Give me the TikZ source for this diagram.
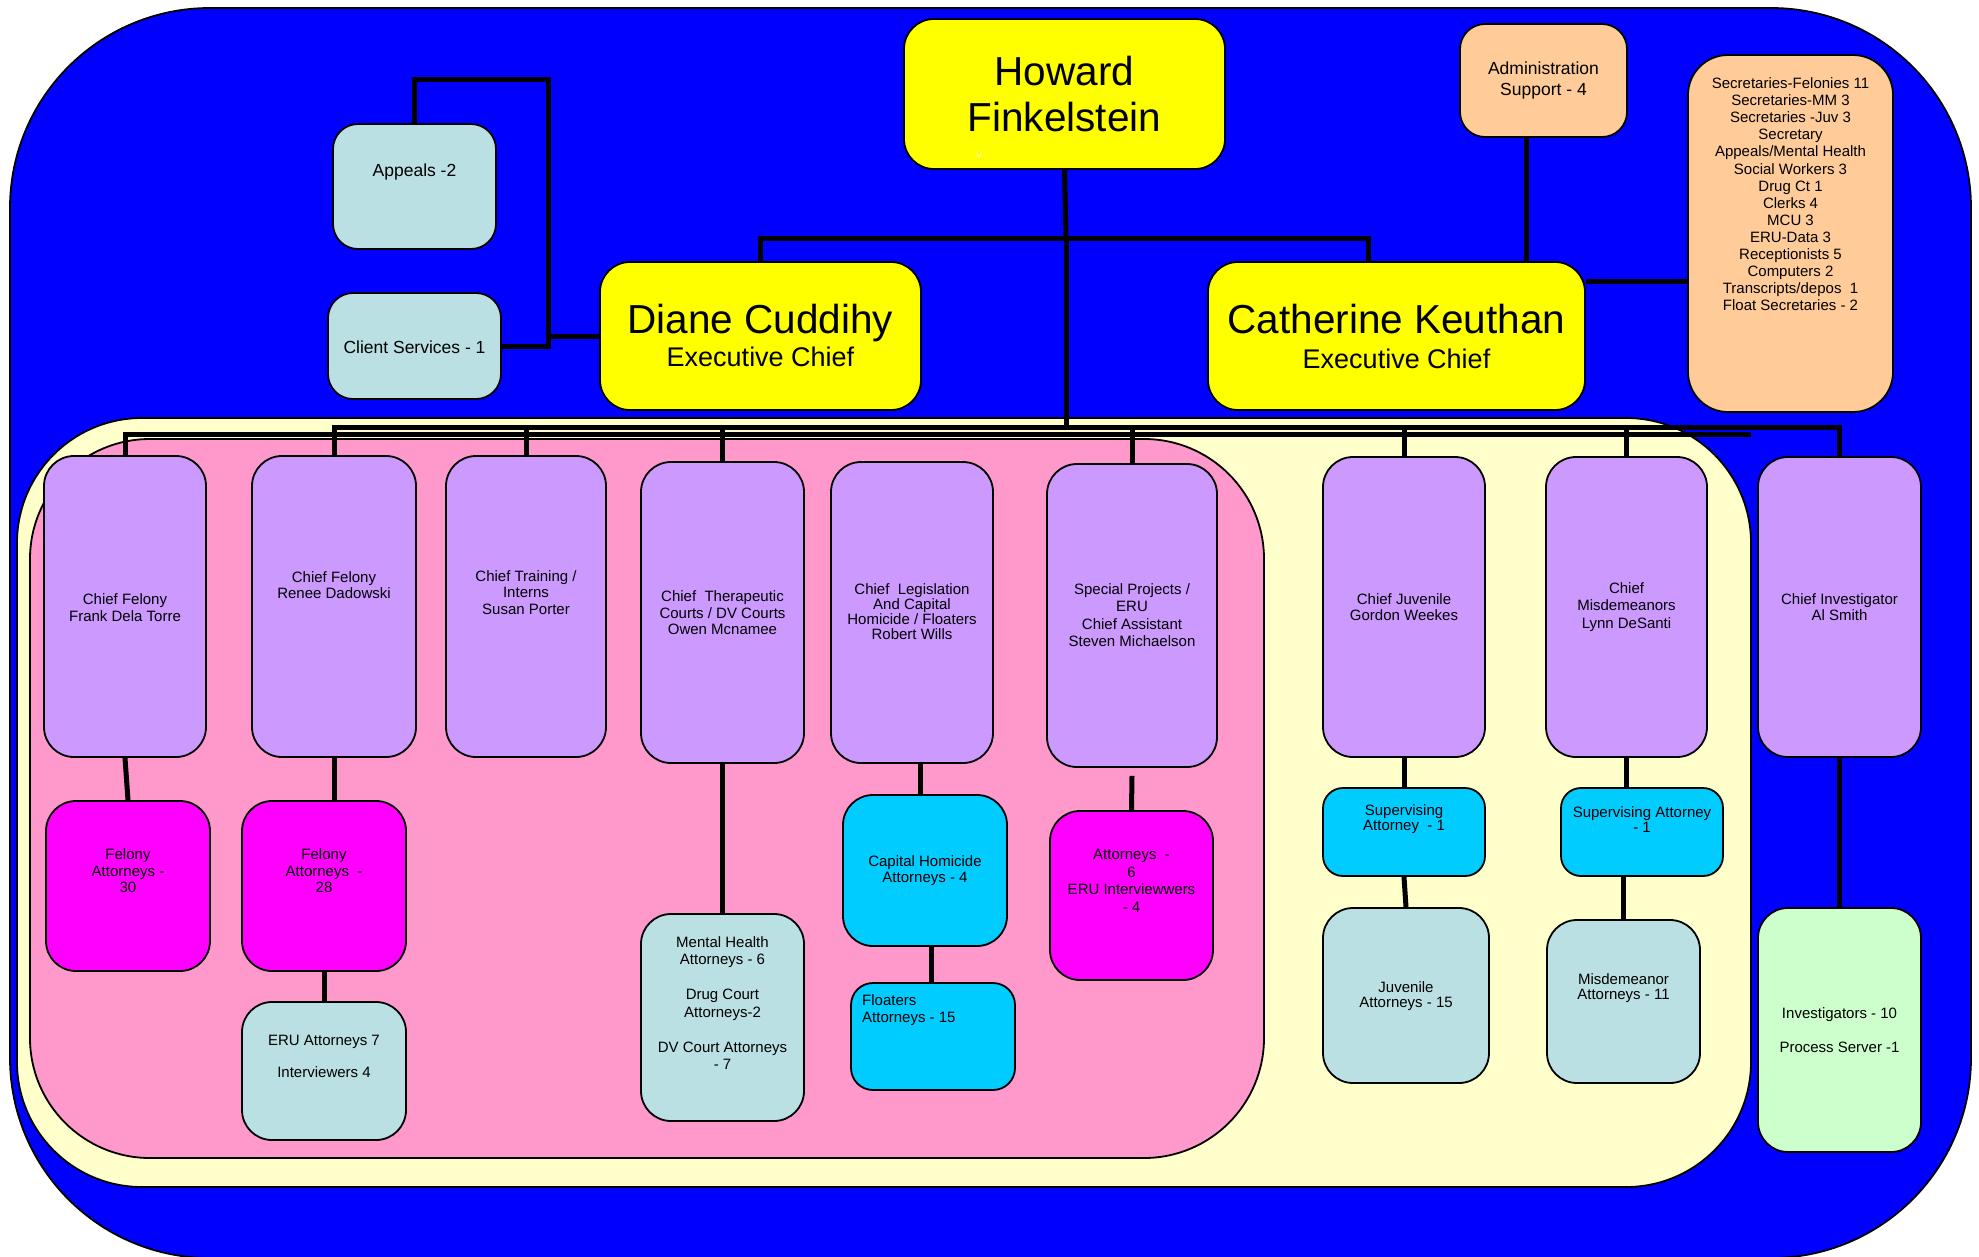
\documentclass[tikz,border=0pt]{standalone}
\usepackage{fontspec}
\setmainfont{Liberation Sans}
\definecolor{deepblue}{HTML}{0000FF}
\definecolor{cream}{HTML}{FFFFCC}
\definecolor{rosefill}{HTML}{FF99CC}
\definecolor{lavender}{HTML}{CC99FF}
\definecolor{magentafill}{HTML}{FF00FF}
\definecolor{paleteal}{HTML}{BBE0E3}
\definecolor{skyfill}{HTML}{00CCFF}
\definecolor{peach}{HTML}{FFCC99}
\definecolor{lemon}{HTML}{FFFF00}
\definecolor{mint}{HTML}{CCFFCC}

\tikzset{
  orgbox/.style={draw=black, line width=1.8pt, rounded corners=30pt, inner sep=0pt},
  txt/.style={inner sep=0pt, align=center, font=\fontsize{15}{16.5}\selectfont},
  link/.style={draw=black, line width=5pt},
  region/.style={draw=black, line width=1.8pt},
}

% \orgbox[box options]{name}{left}{top}{right}{bottom}{text y}{text options}{text}
\newcommand\orgbox[9][]{%
  \node[orgbox,#1,minimum width={#5-#3},minimum height={#6-#4}] (#2) at ({(#3+#5)/2},{(#4+#6)/2}) {};
  \node[txt,#8] (#2-t) at ({(#3+#5)/2},#7) {#9};
}

\begin{document}
\begin{tikzpicture}[x=1pt,y=-1pt]
\useasboundingbox (0,0) rectangle (1979,1256);

% nested background panels
\draw[region, fill=deepblue, rounded corners=200pt] (10,8) rectangle (1971,1258);
\draw[region, fill=cream, rounded corners=125pt] (17,418) rectangle (1751,1187);
\draw[region, fill=rosefill, rounded corners=120pt] (30,439) rectangle (1264,1158);

% top management
\orgbox[fill=lemon]{howard}{904}{19}{1225}{169}{94.5}{font=\fontsize{40.5}{46}\selectfont}{Howard\\Finkelstein}
\node[text=white, inner sep=0pt, font=\fontsize{9}{9}\selectfont] (howardmark) at (979,156) {v};
\orgbox[fill=lemon]{diane}{600}{262}{921}{410}{335}{font=\fontsize{27}{33}\selectfont}{{\fontsize{40.5}{33}\selectfont Diane Cuddihy}\\Executive Chief}
\orgbox[fill=lemon]{cath}{1208}{262}{1585}{410}{336}{font=\fontsize{27}{35}\selectfont}{{\fontsize{40.5}{35}\selectfont Catherine Keuthan}\\Executive Chief}

% staff around the executive chiefs
\orgbox[fill=paleteal, rounded corners=25pt]{appeals}{333}{124}{496}{249}{172}{font=\fontsize{17.5}{21}\selectfont}{Appeals -2}
\orgbox[fill=paleteal, rounded corners=25pt]{client}{328}{293}{501}{399}{347}{font=\fontsize{17.5}{21}\selectfont}{Client Services - 1}
\orgbox[fill=peach, rounded corners=25pt]{admin}{1460}{24}{1627}{137}{80.5}{font=\fontsize{17.5}{21}\selectfont}{Administration\\Support - 4}
\orgbox[fill=peach, rounded corners=40pt]{secr}{1688}{55}{1893}{412}{77.5}{anchor=north, font=\fontsize{15}{17.1}\selectfont}{Secretaries-Felonies 11\\Secretaries-MM 3\\Secretaries -Juv 3\\Secretary\\Appeals/Mental Health\\Social Workers 3\\Drug Ct 1\\Clerks 4\\MCU 3\\ERU-Data 3\\Receptionists 5\\Computers 2\\Transcripts/depos\ \ 1\\Float Secretaries - 2}

% division chiefs
\orgbox[fill=lavender]{frank}{44}{456}{206}{757}{607.5}{}{Chief Felony\\Frank Dela Torre}
\orgbox[fill=lavender]{renee}{252}{456}{416}{757}{585}{}{Chief Felony\\Renee Dadowski}
\orgbox[fill=lavender]{training}{446}{456}{606}{757}{592.5}{}{Chief Training /\\Interns\\Susan Porter}
\orgbox[fill=lavender]{therap}{641}{462}{804}{763}{613}{}{Chief\ \ Therapeutic\\Courts / DV Courts\\Owen Mcnamee}
\orgbox[fill=lavender]{legis}{831}{462}{993}{763}{612}{font=\fontsize{15}{15}\selectfont}{Chief\ \ Legislation\\And Capital\\Homicide / Floaters\\Robert Wills}
\orgbox[fill=lavender]{special}{1047}{464}{1217}{767}{615}{font=\fontsize{15}{17.5}\selectfont}{Special Projects /\\ERU\\Chief Assistant\\Steven Michaelson}
\orgbox[fill=lavender]{juven}{1323}{457}{1485}{757}{607}{}{Chief Juvenile\\Gordon Weekes}
\orgbox[fill=lavender]{misd}{1546}{457}{1707}{757}{607}{font=\fontsize{15}{17.5}\selectfont}{Chief\\Misdemeanors\\Lynn DeSanti}
\orgbox[fill=lavender]{invest}{1758}{457}{1921}{757}{607}{}{Chief Investigator\\Al Smith}

% units
\orgbox[fill=magentafill]{fel30}{46}{801}{210}{971}{871}{}{Felony\\Attorneys -\\30}
\orgbox[fill=magentafill]{fel28}{242}{801}{406}{971}{871}{}{Felony\\Attorneys\ \ -\\28}
\orgbox[fill=paleteal]{eru7}{242}{1002}{406}{1140}{1056.5}{}{ERU Attorneys 7\\[16pt]Interviewers 4}
\orgbox[fill=paleteal]{mh}{641}{914}{804}{1121}{1003}{font=\fontsize{15}{17.5}\selectfont}{Mental Health\\Attorneys - 6\\[17.5pt]Drug Court\\Attorneys-2\\[17.5pt]DV Court Attorneys\\- 7}
\orgbox[fill=skyfill]{capital}{843}{795}{1007}{946}{870.5}{}{Capital Homicide\\Attorneys - 4}
\orgbox[fill=skyfill, rounded corners=22pt]{float}{851}{983}{1015}{1090}{1010}{anchor=west, align=left, xshift=-71pt}{Floaters\\Attorneys - 15}
\orgbox[fill=magentafill]{eru6}{1050}{811}{1213}{980}{881}{font=\fontsize{15}{17.5}\selectfont}{Attorneys\ \ -\\6\\ERU Interviewwers\\- 4}
\orgbox[fill=skyfill, rounded corners=20pt]{supj}{1323}{788}{1485}{876}{819.5}{font=\fontsize{15}{15}\selectfont}{Supervising\\Attorney\ \ - 1}
\orgbox[fill=paleteal]{juvatt}{1323}{908}{1489}{1083}{996}{font=\fontsize{15}{15}\selectfont}{Juvenile\\Attorneys - 15}
\orgbox[fill=skyfill, rounded corners=20pt]{supm}{1561}{788}{1723}{876}{819.5}{font=\fontsize{15}{15}\selectfont}{Supervising Attorney\\- 1}
\orgbox[fill=paleteal]{misdatt}{1547}{920}{1700}{1083}{988.5}{font=\fontsize{15}{15}\selectfont}{Misdemeanor\\Attorneys - 11}
\orgbox[fill=mint]{investig}{1758}{908}{1921}{1152}{1030}{}{Investigators - 10\\[18pt]Process Server -1}

% junction points of the reporting lines
\coordinate (top) at (1066,238);
\coordinate (busA) at (1066,427);
\coordinate (busEnd) at (1751,434);
\coordinate (side) at (548,79);

% reporting lines
\draw[link] (howard.south) -- (top);
\draw[link] (diane.north) |- (top) -| ([xshift=-28.5pt]cath.north);
\draw[link] (top) -- (busA);
\draw[link] (frank.north) |- (busEnd);
\draw[link] (renee.north) |- (busA) -| (invest.north);
\foreach \n in {training,therap,special,juven,misd}
  \draw[link] (\n.north) -- (\n.north |- busA);

\draw[link] (appeals.north) |- (side) -- (side |- client.east) -- (client.east);
\draw[link] (diane.west) -- (diane.west -| side);
\draw[link] ([xshift=-17.5pt]admin.south) -- ([xshift=-17.5pt]admin.south |- cath.north);
\draw[link] ([yshift=55pt]cath.east) -- ([yshift=55pt]cath.east -| secr.west);

\draw[link] (frank.south) -- (fel30.north);
\draw[link] (renee.south) -- (renee.south |- fel28.north);
\draw[link] (fel28.south) -- (eru7.north);
\draw[link] (therap.south) -- (mh.north);
\draw[link] ([xshift=-4.5pt]capital.north) -- ([xshift=-4.5pt]capital.north |- legis.south);
\draw[link] ([xshift=6pt]capital.south) -- ([xshift=6pt]capital.south |- float.north);
\draw[link] ([yshift=-8pt]special.south) -- (eru6.north);
\draw[link] (juven.south) -- (supj.north);
\draw[link] (supj.south) -- (juvatt.north);
\draw[link] (misd.south) -- (misd.south |- supm.north);
\draw[link] (misdatt.north) -- (misdatt.north |- supm.south);
\draw[link] (invest.south) -- (investig.north);
\end{tikzpicture}
\end{document}
